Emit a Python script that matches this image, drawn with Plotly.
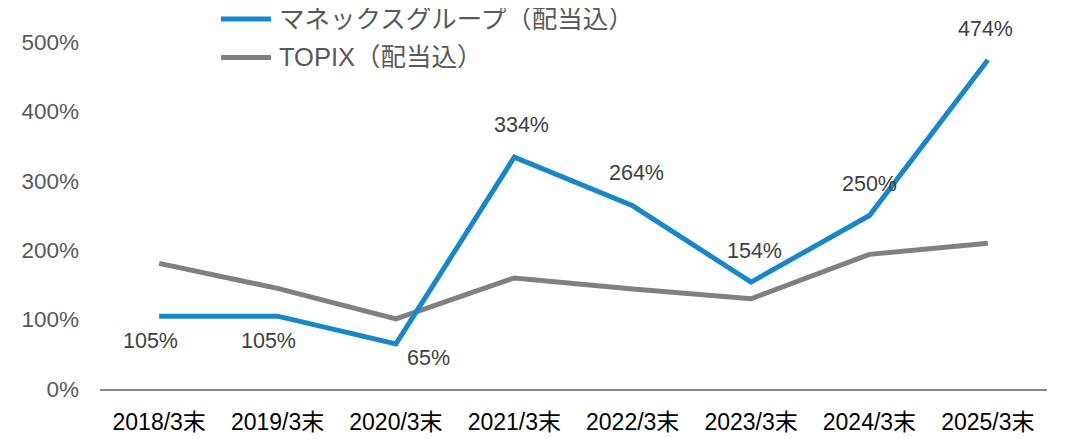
import plotly.graph_objects as go

categories = ["2018/3末", "2019/3末", "2020/3末", "2021/3末", "2022/3末", "2023/3末", "2024/3末", "2025/3末"]
monex = [105, 105, 65, 334, 264, 154, 250, 474]
topix = [181, 145, 101, 160, 144, 130, 194, 210]
series_names = ["マネックスグループ（配当込）", "TOPIX（配当込）"]
yticks = [0, 100, 200, 300, 400, 500]

BLUE = "#1688CA"
GRAY = "#808080"
FONT = "Arial, 'Liberation Sans', 'Noto Sans CJK JP', sans-serif"

# page body has an 8px margin; figure is offset by it
OFF = 8
W, H = 1068 - OFF, 439 - OFF
L, R, T, B = 100 - OFF, 21, 42 - OFF, 49.5
PW, PH = W - L - R, H - T - B

fig = go.Figure()
fig.add_trace(go.Scatter(x=categories, y=topix, mode="lines", name=series_names[1],
                         line=dict(color=GRAY, width=5), showlegend=False))
fig.add_trace(go.Scatter(x=categories, y=monex, mode="lines", name=series_names[0],
                         line=dict(color=BLUE, width=5), showlegend=False))

# data labels
shifts = [(-9, -25), (-9, -25), (33, -14), (7, 32), (4, 33), (3, 31), (0, 32), (-2, 31)]
for c, v, (dx, dy) in zip(categories, monex, shifts):
    fig.add_annotation(x=c, y=v, text=f"{v}%", showarrow=False, xshift=dx, yshift=dy,
                       font=dict(size=21.5, color="#404040", family=FONT))

# manual legend (positions in page pixels)
for i, (name, col) in enumerate(zip(series_names, [BLUE, GRAY])):
    yy = 19 + i * 38.5 - OFF
    yp = (H - B - yy) / PH
    fig.add_shape(type="line", xref="paper", yref="paper",
                  x0=(221 - OFF - L) / PW, x1=(271 - OFF - L) / PW, y0=yp, y1=yp,
                  line=dict(color=col, width=5))
    fig.add_annotation(xref="paper", yref="paper", x=(277 - OFF - L) / PW, y=yp,
                       text=name, showarrow=False, xanchor="left", yanchor="middle",
                       font=dict(size=25.5, color="#595959", family=FONT))

fig.update_layout(
    width=W, height=H,
    margin=dict(l=L, r=R, t=T, b=B),
    paper_bgcolor="white", plot_bgcolor="white",
    font=dict(family=FONT),
    xaxis=dict(type="category", range=[-0.5, len(categories) - 0.5],
               showgrid=False, showline=True, linecolor="#888888", linewidth=1.5,
               ticks="", tickfont=dict(size=23, color="#000000"), ticklabelstandoff=12,
               zeroline=False, automargin=False),
    yaxis=dict(range=[0, 500], tickvals=yticks, ticktext=[f"{t}%" for t in yticks],
               showgrid=False, zeroline=False, showline=False, ticks="",
               tickfont=dict(size=22.5, color="#595959"), ticklabelstandoff=20,
               automargin=False),
)

fig.write_html("out.html")
